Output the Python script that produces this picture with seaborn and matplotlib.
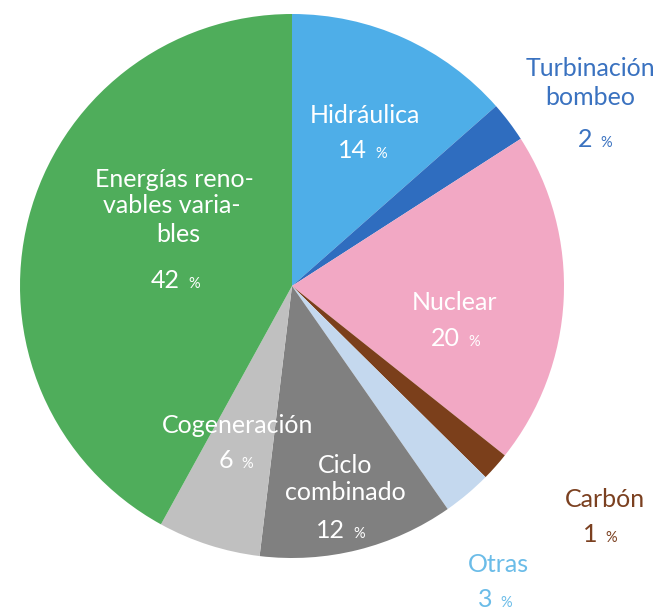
import matplotlib.pyplot as plt
import seaborn as sns

sns.set_theme(style="white")
plt.rcParams['font.family'] = ['Lato', 'DejaVu Sans']

# shares (clockwise from 12 o'clock)
sources = ['Hidráulica', 'Turbinación bombeo', 'Nuclear', 'Carbón', 'Otras',
           'Ciclo combinado', 'Cogeneración', 'Energías renovables variables']
shares = [13.5, 2.4, 19.8, 1.7, 2.9, 11.6, 6.1, 42.0]
shown_pct = ['14', '2', '20', '1', '3', '12', '6', '42']
colors = ['#4eaee8', '#2f6dbf', '#f2a8c4', '#7b3f1b', '#c4d8ee',
          '#808080', '#c0c0c0', '#4fad5b']

W, H = 657, 611
fig = plt.figure(figsize=(W / 100, H / 100), dpi=100)
ax = fig.add_axes([0, 0, 1, 1])

ax.pie(shares, colors=colors, startangle=90, counterclock=False,
       center=(292, H - 286), radius=272, wedgeprops=dict(linewidth=0))
ax.set_xlim(0, W)
ax.set_ylim(0, H)
ax.set_aspect('equal')
ax.axis('off')

FS = 18
white = 'white'

# name lines: (text, x centre, baseline y from top, colour)
names = [
    ('Hidráulica', 365, 123, white),
    ('Turbinación', 590, 76, '#3a72c0'),
    ('bombeo', 590, 105, '#3a72c0'),
    ('Nuclear', 455, 310, white),
    ('Carbón', 605, 507, '#7b4020'),
    ('Otras', 498, 572, '#6bbce8'),
    ('Ciclo', 345, 473, white),
    ('combinado', 345, 500, white),
    ('Cogeneración', 238, 433, white),
    ('Energías reno-', 174, 187, white),
    ('vables varia-', 172, 213, white),
    ('bles', 178, 242, white),
]
for txt, x, y, c in names:
    ax.text(x, H - y, txt, color=c, fontsize=FS, ha='center', va='baseline')

# percentages: (index, number right edge x, baseline y from top, colour)
pct_pos = [
    (0, 367, 158, white),
    (1, 592, 147, '#3a72c0'),
    (2, 460, 346, white),
    (3, 597, 542, '#7b4020'),
    (4, 492, 607, '#6bbce8'),
    (5, 345, 538, white),
    (6, 233, 468, white),
    (7, 180, 288, white),
]
for i, x, y, c in pct_pos:
    ax.text(x, H - y, shown_pct[i], color=c, fontsize=FS, ha='right',
            va='baseline')
    ax.text(x + 8, H - y, '%', color=c, fontsize=FS * 0.58, ha='left',
            va='baseline')

fig.savefig('out.png', dpi=100)
